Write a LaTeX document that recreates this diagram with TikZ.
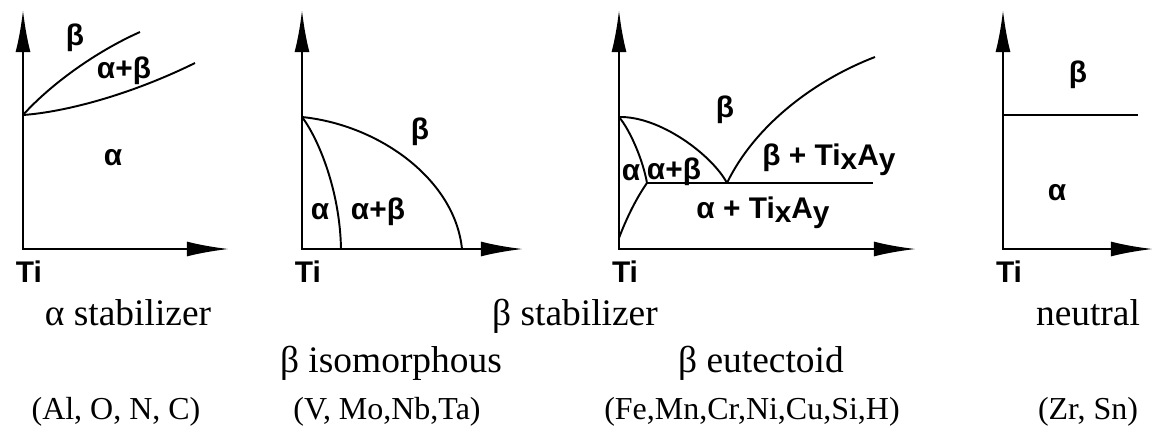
\documentclass[tikz,border=0pt]{standalone}
\usepackage{fontspec}
\setmainfont{Liberation Serif}
\newfontfamily\diagfont{Liberation Sans}
\usetikzlibrary{arrows.meta}

\begin{document}
\begin{tikzpicture}[x=0.02cm, y=-0.02cm,
		>={Latex[length=24pt,width=8.5pt]},   % long arrow tips
		axisline/.style={line width=1.3pt, <->},
		phaseline/.style={line width=1.1pt},
		phaselbl/.style={font=\diagfont\bfseries\fontsize{17}{19}\selectfont, inner sep=0pt},
		grouplbl/.style={font=\fontsize{21.3}{24}\selectfont, anchor=base, inner sep=0pt},
		elemlbl/.style={font=\fontsize{18.2}{21}\selectfont, anchor=base, inner sep=0pt}]
	\useasboundingbox (0,0) rectangle (1161,434);
	% axes, Ti at the origin
	\foreach \n/\ox/\xe in {1/23/229, 2/302/523, 3/619/916, 4/1003/1153} {
		\coordinate (o\n) at (\ox,249);
		\coordinate (ytip\n) at (\ox,10);
		\coordinate (xtip\n) at (\xe,249);
		\draw[axisline] (ytip\n) |- (xtip\n);
		\node[phaselbl] (ti\n) at (\ox+6,272) {Ti};
	}
	% alpha stabilizer
	\coordinate (j1) at (23,115);
	\coordinate (b1) at (140,32);
	\coordinate (c1) at (195,63);
	\draw[phaseline] (j1) .. controls (50,85) and (95,52) .. (b1);
	\draw[phaseline] (j1) .. controls (65,112) and (130,95) .. (c1);
	\node[phaselbl] (beta1) at (75,38) {β};
	\node[phaselbl] (ab1) at (124,71) {α+β};
	\node[phaselbl] (alpha1) at (113,158) {α};
	% beta isomorphous
	\coordinate (j2) at (302,117);
	\coordinate (t2) at (462,249);
	\coordinate (s2) at (341,249);
	\draw[phaseline] (j2) .. controls (380,125) and (455,180) .. (t2);
	\draw[phaseline] (j2) .. controls (318,138) and (340,190) .. (s2);
	\node[phaselbl] (beta2) at (420,132) {β};
	\node[phaselbl] (alpha2) at (320,212) {α};
	\node[phaselbl] (ab2) at (378,212) {α+β};
	% beta eutectoid
	\coordinate (j3) at (619,117);
	\coordinate (e3) at (727,183);
	\coordinate (a3) at (647,183);
	\coordinate (h3) at (873,183);
	\coordinate (r3) at (875,57);
	\coordinate (l3) at (619,238);
	\draw[phaseline] (j3) .. controls (660,116) and (712,155) .. (e3);
	\draw[phaseline] (j3) .. controls (630,130) and (643,160) .. (a3);
	\draw[phaseline] (l3) .. controls (625,222) and (635,200) .. (a3);
	\draw[phaseline] (a3) -- (h3);
	\draw[phaseline] (e3) .. controls (755,125) and (815,80) .. (r3);
	\node[phaselbl] (beta3) at (725,110) {β};
	\node[phaselbl] (bt3) at (829,160) {β + Ti\raisebox{-2pt}{x}A\raisebox{-2pt}{y}};
	\node[phaselbl] (alpha3) at (631,173) {α};
	\node[phaselbl] (ab3) at (674,172) {α+β};
	\node[phaselbl] (at3) at (763,213) {α + Ti\raisebox{-2pt}{x}A\raisebox{-2pt}{y}};
	% neutral
	\coordinate (m4) at (1003,115);
	\coordinate (n4) at (1138,115);
	\draw[phaseline] (m4) -- (n4);
	\node[phaselbl] (beta4) at (1078,75) {β};
	\node[phaselbl] (alpha4) at (1057,193) {α};
	% captions
	\node[grouplbl] (astab) at (128,325) {α stabilizer};
	\node[grouplbl] (bstab) at (575,325) {β stabilizer};
	\node[grouplbl] (neutral) at (1088,325) {neutral};
	\node[grouplbl] (biso) at (391,372) {β isomorphous};
	\node[grouplbl] (beut) at (761,372) {β eutectoid};
	\node[elemlbl] (alel) at (116,419) {(Al, O, N, C)};
	\node[elemlbl] (isoel) at (387,419) {(V, Mo,Nb,Ta)};
	\node[elemlbl] (eutel) at (752,419) {(Fe,Mn,Cr,Ni,Cu,Si,H)};
	\node[elemlbl] (neuel) at (1088,419) {(Zr, Sn)};
\end{tikzpicture}
\end{document}
